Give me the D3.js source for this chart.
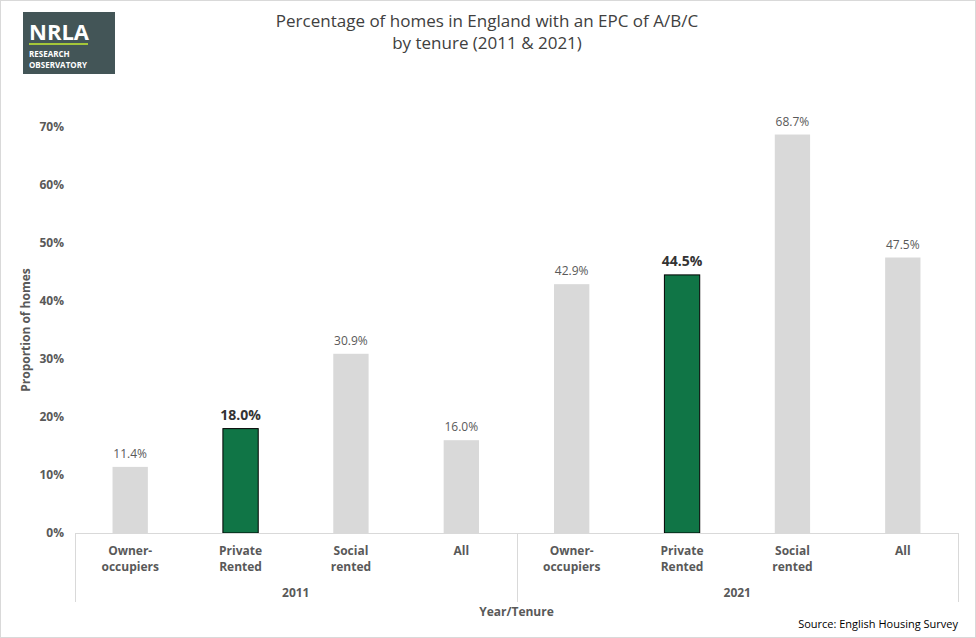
<!DOCTYPE html>
<html lang="en">
<head>
<meta charset="UTF-8">
<title>EPC by tenure</title>
<script src="https://d3js.org/d3.v7.min.js"></script>
<style>
    body { margin: 0; background: #fff; }
    text { font-family: "Open Sans", "DejaVu Sans", sans-serif; fill: #595959; }
</style>
</head>
<body>
<svg id="chart" width="976" height="638"></svg>
<script>
    // Data
    var years = ["2011", "2021"];
    var tenures = ["Owner-occupiers", "Private Rented", "Social rented", "All"];
    var tenureLines = [["Owner-", "occupiers"], ["Private", "Rented"], ["Social", "rented"], ["All"]];
    var values2011 = [11.4, 18.0, 30.9, 16.0];
    var values2021 = [42.9, 44.5, 68.7, 47.5];
    var yTicks = [0, 10, 20, 30, 40, 50, 60, 70];

    var data = [];
    years.forEach(function (yr, i) {
        var vals = i === 0 ? values2011 : values2021;
        tenures.forEach(function (t, j) {
            data.push({ key: yr + "|" + t, year: yr, idx: j, value: vals[j], highlight: t === "Private Rented" });
        });
    });

    var svg = d3.select("#chart");
    svg.append("rect").attr("x", 0.5).attr("y", 0.5).attr("width", 975).attr("height", 637)
        .attr("fill", "#fff").attr("stroke", "#d9d9d9");

    var plotLeft = 75, plotRight = 958, plotTop = 127, plotBottom = 533;

    var x = d3.scaleBand().domain(data.map(function (d) { return d.key; }))
        .range([plotLeft, plotRight]).paddingInner(0.68).paddingOuter(0.34);
    var y = d3.scaleLinear().domain([0, 70]).range([plotBottom, plotTop]);

    // y axis labels
    svg.append("g").selectAll("text").data(yTicks).join("text")
        .attr("x", 64).attr("y", function (d) { return y(d) + 4; })
        .attr("text-anchor", "end").attr("font-size", 12).attr("font-weight", "bold")
        .text(function (d) { return d + "%"; });

    svg.append("text").attr("transform", "translate(30," + ((plotTop + plotBottom) / 2) + ") rotate(-90)")
        .attr("text-anchor", "middle").attr("font-size", 12).attr("font-weight", "bold")
        .text("Proportion of homes");

    // bars
    svg.append("g").selectAll("rect").data(data).join("rect")
        .attr("x", function (d) { return x(d.key); })
        .attr("y", function (d) { return y(d.value); })
        .attr("width", x.bandwidth())
        .attr("height", function (d) { return plotBottom - y(d.value); })
        .attr("fill", function (d) { return d.highlight ? "#107546" : "#d9d9d9"; })
        .attr("stroke", function (d) { return d.highlight ? "#000" : "none"; });

    svg.append("g").selectAll("text").data(data).join("text")
        .attr("x", function (d) { return x(d.key) + x.bandwidth() / 2; })
        .attr("y", function (d) { return y(d.value) - 9; })
        .attr("text-anchor", "middle")
        .attr("font-size", function (d) { return d.highlight ? 14 : 12; })
        .attr("font-weight", function (d) { return d.highlight ? "bold" : "normal"; })
        .style("fill", function (d) { return d.highlight ? "#333" : "#595959"; })
        .text(function (d) { return d.value.toFixed(1) + "%"; });

    // axis lines
    var axis = svg.append("g").attr("stroke", "#d9d9d9");
    axis.append("line").attr("x1", plotLeft).attr("x2", plotRight).attr("y1", plotBottom + 0.5).attr("y2", plotBottom + 0.5);
    var groupW = (plotRight - plotLeft) / years.length;
    [0, 1, 2].forEach(function (i) {
        var gx = Math.round(plotLeft + i * groupW) + 0.5;
        axis.append("line").attr("x1", gx).attr("x2", gx).attr("y1", plotBottom).attr("y2", 602);
    });

    // category labels
    svg.append("g").selectAll("text").data(data).join("text")
        .attr("x", function (d) { return x(d.key) + x.bandwidth() / 2; })
        .attr("y", 555).attr("text-anchor", "middle").attr("font-size", 12).attr("font-weight", "bold")
        .each(function (d) {
            var t = d3.select(this);
            tenureLines[d.idx].forEach(function (line, k) {
                t.append("tspan").attr("x", x(d.key) + x.bandwidth() / 2).attr("dy", k ? 16 : 0).text(line);
            });
        });

    svg.append("g").selectAll("text").data(years).join("text")
        .attr("x", function (d, i) { return plotLeft + (i + 0.5) * groupW; })
        .attr("y", 597).attr("text-anchor", "middle").attr("font-size", 12).attr("font-weight", "bold")
        .text(function (d) { return d; });

    svg.append("text").attr("x", (plotLeft + plotRight) / 2).attr("y", 616).attr("text-anchor", "middle")
        .attr("font-size", 12).attr("font-weight", "bold").text("Year/Tenure");

    svg.append("text").attr("x", 958).attr("y", 628).attr("text-anchor", "end")
        .attr("font-size", 11).style("fill", "#000").text("Source: English Housing Survey");

    // title
    var title = svg.append("text").attr("x", 487).attr("y", 27).attr("text-anchor", "middle")
        .attr("font-size", 17).style("fill", "#404040");
    title.append("tspan").attr("x", 487).text("Percentage of homes in England with an EPC of A/B/C");
    title.append("tspan").attr("x", 487).attr("dy", 22).text("by tenure (2011 & 2021)");

    // logo
    var logo = svg.append("g").attr("transform", "translate(23,12)");
    logo.append("rect").attr("width", 92).attr("height", 62).attr("fill", "#435557");
    logo.append("text").attr("x", 6).attr("y", 28).attr("font-size", 22).attr("font-weight", "bold")
        .style("fill", "#fff").text("NRLA");
    logo.append("rect").attr("x", 6).attr("y", 31).attr("width", 59).attr("height", 2).attr("fill", "#a4c639");
    logo.append("text").attr("x", 6).attr("y", 45).attr("font-size", 8).attr("font-weight", "bold")
        .style("fill", "#fff").text("RESEARCH");
    logo.append("text").attr("x", 6).attr("y", 56).attr("font-size", 8).attr("font-weight", "bold")
        .style("fill", "#fff").text("OBSERVATORY");
</script>
</body>
</html>
